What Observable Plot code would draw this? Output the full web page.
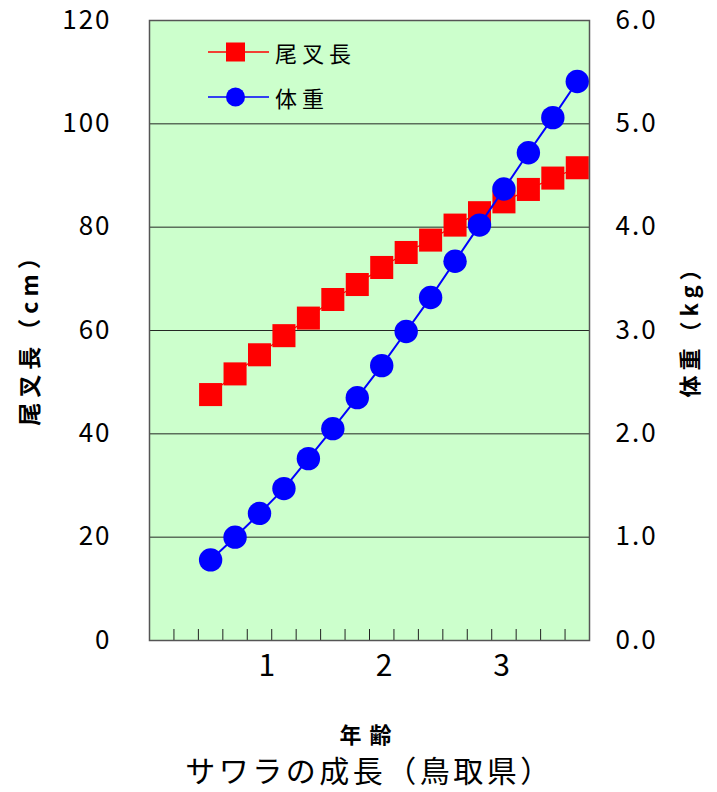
<!DOCTYPE html>
<html>
<head>
<meta charset="utf-8">
<script src="https://cdn.jsdelivr.net/npm/d3@7"></script>
<script src="https://cdn.jsdelivr.net/npm/@observablehq/plot@0.6"></script>
<style>
  html, body { margin: 0; padding: 0; background: #fff; }
  #wrap { position: relative; width: 717px; height: 792px; overflow: hidden; }
  svg { font-family: "Noto Sans CJK JP", "Noto Sans", sans-serif; }
  g[aria-label="y-axis tick label"] text { letter-spacing: 2px; }
  .ylab text { letter-spacing: 5px; }
  .xlab text { letter-spacing: 8px; }
  .title text { letter-spacing: 3.5px; }
  .legend { position: absolute; left: 205px; font-family: "Noto Sans CJK JP", sans-serif; font-size: 22px; letter-spacing: 5px; display: flex; align-items: center; line-height: 24px; }
  .legend svg { margin-right: 6px; }
</style>
</head>
<body>
<div id="wrap"></div>
<script>
// Data (age in months, 2.5-month classes)
const ageMonths = [6.25, 8.75, 11.25, 13.75, 16.25, 18.75, 21.25, 23.75, 26.25, 28.75, 31.25, 33.75, 36.25, 38.75, 41.25, 43.75];
const forkLength = [47.6, 51.6, 55.3, 59.0, 62.4, 66.0, 68.9, 72.2, 75.1, 77.5, 80.4, 82.8, 84.9, 87.3, 89.5, 91.5]; // cm
const bodyWeight = [0.78, 1.00, 1.23, 1.47, 1.76, 2.05, 2.35, 2.66, 2.99, 3.32, 3.67, 4.02, 4.37, 4.72, 5.06, 5.41]; // kg
const lengthTicks = [0, 20, 40, 60, 80, 100, 120];
const gridTicks = [20, 40, 60, 80, 100];
const weightTicks = [0, 1, 2, 3, 4, 5, 6];
const minorTicksMonths = [2.5, 5, 7.5, 10, 12.5, 15, 17.5, 20, 22.5, 25, 27.5, 30, 32.5, 35, 37.5, 40, 42.5];
const yearTicksMonths = [12, 24, 36];
const yearLabels = ["1", "2", "3"];
const weightToLength = 20; // 6.0 kg ↔ 120 cm

const data = ageMonths.map((a, i) => ({age: a, len: forkLength[i], wt: bodyWeight[i]}));

const chart = Plot.plot({
  width: 717,
  height: 792,
  marginTop: 20,
  marginBottom: 152,
  marginLeft: 149,
  marginRight: 128,
  style: {background: "#fff", color: "#000"},
  x: {domain: [0, 45]},
  y: {domain: [0, 120]},
  marks: [
    Plot.frame({fill: "#ccffcc", stroke: "none"}),
    Plot.ruleY(gridTicks, {stroke: "#111", strokeWidth: 1, strokeOpacity: 0.9}),
    // left axis
    Plot.axisY({anchor: "left", ticks: lengthTicks, tickSize: 0, tickPadding: 38, fontSize: 26, label: null}),
    // right axis (weight)
    Plot.axisY({anchor: "right", ticks: weightTicks.map(w => w * weightToLength), tickFormat: d => (d / weightToLength).toFixed(1), tickSize: 0, tickPadding: 26, fontSize: 26, label: null}),
    // minor x ticks (inward)
    Plot.axisX({anchor: "bottom", ticks: minorTicksMonths, tickSize: -11, tickFormat: () => "", stroke: "#222", label: null}),
    Plot.axisX({anchor: "bottom", ticks: yearTicksMonths, tickSize: 0, tickPadding: 14, tickFormat: (d, i) => yearLabels[i], fontSize: 30, label: null}),
    // fork length series
    Plot.line(data, {x: "age", y: "len", stroke: "#ff0000", strokeWidth: 1.2}),
    Plot.dot(data, {x: "age", y: "len", symbol: "square", r: 13, fill: "#ff0000", stroke: "none"}),
    // body weight series
    Plot.line(data, {x: "age", y: d => d.wt * weightToLength, stroke: "#0000ff", strokeWidth: 2}),
    Plot.dot(data, {x: "age", y: d => d.wt * weightToLength, r: 11.7, fill: "#0000ff", stroke: "none"}),
    Plot.frame({stroke: "#555", strokeWidth: 1.5}),
    // axis titles
    Plot.text(["尾叉長（cm）"], {frameAnchor: "left", textAnchor: "middle", lineAnchor: "middle", dx: -119, dy: 3, rotate: -90, fontSize: 23, fontWeight: "bold", className: "ylab"}),
    Plot.text(["体重（kg）"], {frameAnchor: "right", textAnchor: "middle", lineAnchor: "middle", dx: 101, dy: -5, rotate: -90, fontSize: 22, fontWeight: "bold", className: "ylab"}),
    Plot.text(["年齢"], {frameAnchor: "bottom", textAnchor: "middle", lineAnchor: "middle", dy: 95, fontSize: 22, fontWeight: "bold", className: "xlab"}),
    Plot.text(["サワラの成長（鳥取県）"], {frameAnchor: "bottom", textAnchor: "middle", lineAnchor: "middle", dy: 132, fontSize: 30, className: "title"})
  ]
});

const wrap = document.getElementById("wrap");
wrap.appendChild(chart);

// legend
const legendItems = [
  {label: "尾叉長", color: "#ff0000", shape: "square", top: 40},
  {label: "体重", color: "#0000ff", shape: "circle", top: 85}
];
for (const item of legendItems) {
  const div = document.createElement("div");
  div.className = "legend";
  div.style.top = item.top + "px";
  const icon = item.shape === "square"
    ? `<rect x="21" y="2.5" width="19" height="19" fill="${item.color}"/>`
    : `<circle cx="30.5" cy="12" r="9.5" fill="${item.color}"/>`;
  div.innerHTML = `<svg width="64" height="24"><line x1="3" x2="64" y1="12" y2="12" stroke="${item.color}" stroke-width="1.5"/>${icon}</svg><span>${item.label}</span>`;
  wrap.appendChild(div);
}
</script>
</body>
</html>
